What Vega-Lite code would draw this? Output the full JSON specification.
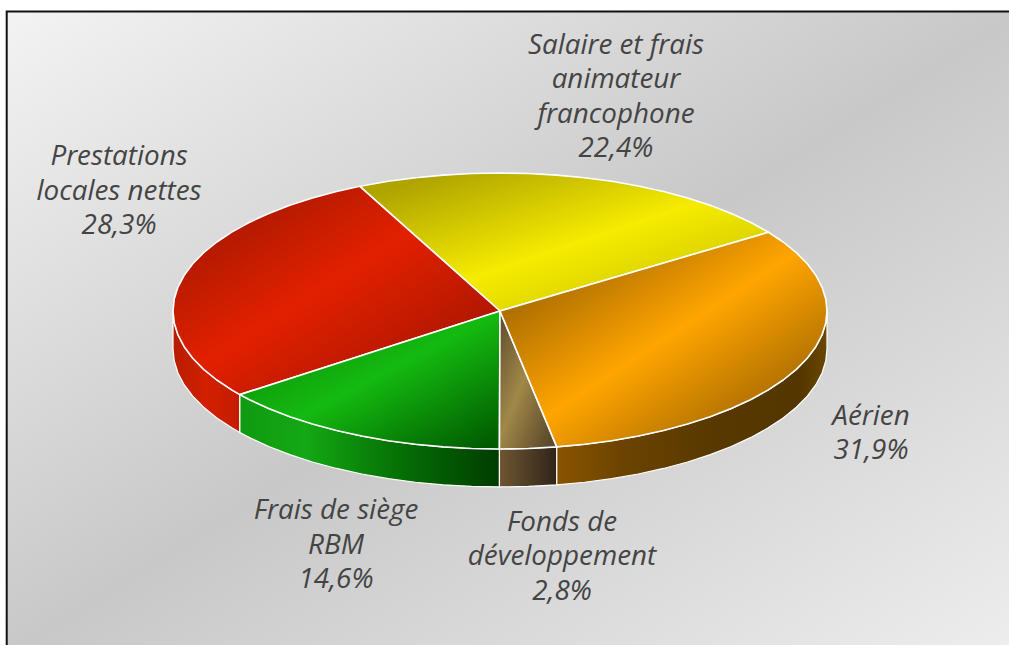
{"$schema":"https://vega.github.io/schema/vega-lite/v6.json","autosize":{"type":"fit","contains":"padding"},"width":1009,"height":645,"padding":0,"background":"white","config":{"view":{"stroke":null}},
"datasets":{
"panel":[{"x":-1.5086,"x2":1.6,"y":2.1703,"y2":-2.5}],
"walls":[
{"slice":"Prestations","x":-1,"top":0,"bottom":-0.275},{"slice":"Prestations","x":-0.9962,"top":-0.0872,"bottom":-0.3622},{"slice":"Prestations","x":-0.9848,"top":-0.1736,"bottom":-0.4486},{"slice":"Prestations","x":-0.9659,"top":-0.2588,"bottom":-0.5338},{"slice":"Prestations","x":-0.9397,"top":-0.342,"bottom":-0.617},{"slice":"Prestations","x":-0.9063,"top":-0.4226,"bottom":-0.6976},{"slice":"Prestations","x":-0.866,"top":-0.5,"bottom":-0.775},{"slice":"Prestations","x":-0.8192,"top":-0.5736,"bottom":-0.8486},{"slice":"Prestations","x":-0.7955,"top":-0.606,"bottom":-0.881},
{"slice":"Siege","x":-0.7955,"top":-0.606,"bottom":-0.881},{"slice":"Siege","x":-0.766,"top":-0.6428,"bottom":-0.9178},{"slice":"Siege","x":-0.7071,"top":-0.7071,"bottom":-0.9821},{"slice":"Siege","x":-0.6428,"top":-0.766,"bottom":-1.041},{"slice":"Siege","x":-0.5736,"top":-0.8192,"bottom":-1.0942},{"slice":"Siege","x":-0.5,"top":-0.866,"bottom":-1.141},{"slice":"Siege","x":-0.4226,"top":-0.9063,"bottom":-1.1813},{"slice":"Siege","x":-0.342,"top":-0.9397,"bottom":-1.2147},{"slice":"Siege","x":-0.2588,"top":-0.9659,"bottom":-1.2409},{"slice":"Siege","x":-0.1736,"top":-0.9848,"bottom":-1.2598},{"slice":"Siege","x":-0.0872,"top":-0.9962,"bottom":-1.2712},{"slice":"Siege","x":-0.0017,"top":-1,"bottom":-1.275},
{"slice":"Fonds","x":-0.0017,"top":-1,"bottom":-1.275},{"slice":"Fonds","x":0.0872,"top":-0.9962,"bottom":-1.2712},{"slice":"Fonds","x":0.1736,"top":-0.9848,"bottom":-1.2598},
{"slice":"Aerien","x":0.1736,"top":-0.9848,"bottom":-1.2598},{"slice":"Aerien","x":0.2588,"top":-0.9659,"bottom":-1.2409},{"slice":"Aerien","x":0.342,"top":-0.9397,"bottom":-1.2147},{"slice":"Aerien","x":0.4226,"top":-0.9063,"bottom":-1.1813},{"slice":"Aerien","x":0.5,"top":-0.866,"bottom":-1.141},{"slice":"Aerien","x":0.5736,"top":-0.8192,"bottom":-1.0942},{"slice":"Aerien","x":0.6428,"top":-0.766,"bottom":-1.041},{"slice":"Aerien","x":0.7071,"top":-0.7071,"bottom":-0.9821},{"slice":"Aerien","x":0.766,"top":-0.6428,"bottom":-0.9178},{"slice":"Aerien","x":0.8192,"top":-0.5736,"bottom":-0.8486},{"slice":"Aerien","x":0.866,"top":-0.5,"bottom":-0.775},{"slice":"Aerien","x":0.9063,"top":-0.4226,"bottom":-0.6976},{"slice":"Aerien","x":0.9397,"top":-0.342,"bottom":-0.617},{"slice":"Aerien","x":0.9659,"top":-0.2588,"bottom":-0.5338},{"slice":"Aerien","x":0.9848,"top":-0.1736,"bottom":-0.4486},{"slice":"Aerien","x":0.9962,"top":-0.0872,"bottom":-0.3622},{"slice":"Aerien","x":1,"top":0,"bottom":-0.275}
],
"tops":[
{"slice":"Salaire","i":0,"x":0,"y":0},{"slice":"Salaire","i":1,"x":0.8211,"y":0.5707},{"slice":"Salaire","i":2,"x":0.766,"y":0.6428},{"slice":"Salaire","i":3,"x":0.7071,"y":0.7071},{"slice":"Salaire","i":4,"x":0.6428,"y":0.766},{"slice":"Salaire","i":5,"x":0.5736,"y":0.8192},{"slice":"Salaire","i":6,"x":0.5,"y":0.866},{"slice":"Salaire","i":7,"x":0.4226,"y":0.9063},{"slice":"Salaire","i":8,"x":0.342,"y":0.9397},{"slice":"Salaire","i":9,"x":0.2588,"y":0.9659},{"slice":"Salaire","i":10,"x":0.1736,"y":0.9848},{"slice":"Salaire","i":11,"x":0.0872,"y":0.9962},{"slice":"Salaire","i":12,"x":0,"y":1},{"slice":"Salaire","i":13,"x":-0.0872,"y":0.9962},{"slice":"Salaire","i":14,"x":-0.1736,"y":0.9848},{"slice":"Salaire","i":15,"x":-0.2588,"y":0.9659},{"slice":"Salaire","i":16,"x":-0.342,"y":0.9397},{"slice":"Salaire","i":17,"x":-0.4226,"y":0.9063},{"slice":"Salaire","i":18,"x":-0.4289,"y":0.9033},{"slice":"Salaire","i":19,"x":0,"y":0},
{"slice":"Prestations","i":0,"x":0,"y":0},{"slice":"Prestations","i":1,"x":-0.4289,"y":0.9033},{"slice":"Prestations","i":2,"x":-0.5,"y":0.866},{"slice":"Prestations","i":3,"x":-0.5736,"y":0.8192},{"slice":"Prestations","i":4,"x":-0.6428,"y":0.766},{"slice":"Prestations","i":5,"x":-0.7071,"y":0.7071},{"slice":"Prestations","i":6,"x":-0.766,"y":0.6428},{"slice":"Prestations","i":7,"x":-0.8192,"y":0.5736},{"slice":"Prestations","i":8,"x":-0.866,"y":0.5},{"slice":"Prestations","i":9,"x":-0.9063,"y":0.4226},{"slice":"Prestations","i":10,"x":-0.9397,"y":0.342},{"slice":"Prestations","i":11,"x":-0.9659,"y":0.2588},{"slice":"Prestations","i":12,"x":-0.9848,"y":0.1736},{"slice":"Prestations","i":13,"x":-0.9962,"y":0.0872},{"slice":"Prestations","i":14,"x":-1,"y":0},{"slice":"Prestations","i":15,"x":-0.9962,"y":-0.0872},{"slice":"Prestations","i":16,"x":-0.9848,"y":-0.1736},{"slice":"Prestations","i":17,"x":-0.9659,"y":-0.2588},{"slice":"Prestations","i":18,"x":-0.9397,"y":-0.342},{"slice":"Prestations","i":19,"x":-0.9063,"y":-0.4226},{"slice":"Prestations","i":20,"x":-0.866,"y":-0.5},{"slice":"Prestations","i":21,"x":-0.8192,"y":-0.5736},{"slice":"Prestations","i":22,"x":-0.7955,"y":-0.606},{"slice":"Prestations","i":23,"x":0,"y":0},
{"slice":"Siege","i":0,"x":0,"y":0},{"slice":"Siege","i":1,"x":-0.7955,"y":-0.606},{"slice":"Siege","i":2,"x":-0.766,"y":-0.6428},{"slice":"Siege","i":3,"x":-0.7071,"y":-0.7071},{"slice":"Siege","i":4,"x":-0.6428,"y":-0.766},{"slice":"Siege","i":5,"x":-0.5736,"y":-0.8192},{"slice":"Siege","i":6,"x":-0.5,"y":-0.866},{"slice":"Siege","i":7,"x":-0.4226,"y":-0.9063},{"slice":"Siege","i":8,"x":-0.342,"y":-0.9397},{"slice":"Siege","i":9,"x":-0.2588,"y":-0.9659},{"slice":"Siege","i":10,"x":-0.1736,"y":-0.9848},{"slice":"Siege","i":11,"x":-0.0872,"y":-0.9962},{"slice":"Siege","i":12,"x":-0.0017,"y":-1},{"slice":"Siege","i":13,"x":0,"y":0},
{"slice":"Fonds","i":0,"x":0,"y":0},{"slice":"Fonds","i":1,"x":-0.0017,"y":-1},{"slice":"Fonds","i":2,"x":0.0872,"y":-0.9962},{"slice":"Fonds","i":3,"x":0.1736,"y":-0.9848},{"slice":"Fonds","i":4,"x":0,"y":0},
{"slice":"Aerien","i":0,"x":0,"y":0},{"slice":"Aerien","i":1,"x":0.1736,"y":-0.9848},{"slice":"Aerien","i":2,"x":0.2588,"y":-0.9659},{"slice":"Aerien","i":3,"x":0.342,"y":-0.9397},{"slice":"Aerien","i":4,"x":0.4226,"y":-0.9063},{"slice":"Aerien","i":5,"x":0.5,"y":-0.866},{"slice":"Aerien","i":6,"x":0.5736,"y":-0.8192},{"slice":"Aerien","i":7,"x":0.6428,"y":-0.766},{"slice":"Aerien","i":8,"x":0.7071,"y":-0.7071},{"slice":"Aerien","i":9,"x":0.766,"y":-0.6428},{"slice":"Aerien","i":10,"x":0.8192,"y":-0.5736},{"slice":"Aerien","i":11,"x":0.866,"y":-0.5},{"slice":"Aerien","i":12,"x":0.9063,"y":-0.4226},{"slice":"Aerien","i":13,"x":0.9397,"y":-0.342},{"slice":"Aerien","i":14,"x":0.9659,"y":-0.2588},{"slice":"Aerien","i":15,"x":0.9848,"y":-0.1736},{"slice":"Aerien","i":16,"x":0.9962,"y":-0.0872},{"slice":"Aerien","i":17,"x":1,"y":0},{"slice":"Aerien","i":18,"x":0.9962,"y":0.0872},{"slice":"Aerien","i":19,"x":0.9848,"y":0.1736},{"slice":"Aerien","i":20,"x":0.9659,"y":0.2588},{"slice":"Aerien","i":21,"x":0.9397,"y":0.342},{"slice":"Aerien","i":22,"x":0.9063,"y":0.4226},{"slice":"Aerien","i":23,"x":0.866,"y":0.5},{"slice":"Aerien","i":24,"x":0.8211,"y":0.5707},{"slice":"Aerien","i":25,"x":0,"y":0}
],
"labels":[
{"slice":"Salaire","share":22.4,"label":["Salaire et frais","animateur","francophone","22,4%"],"x":0.3547,"y":1.9203},
{"slice":"Prestations","share":28.3,"label":["Prestations","locales nettes","28,3%"],"x":-1.1651,"y":1.1159},
{"slice":"Aerien","share":31.9,"label":["Aérien","31,9%"],"x":1.1346,"y":-0.7681},
{"slice":"Fonds","share":2.8,"label":["Fonds de","développement","2,8%"],"x":0.1896,"y":-1.5362},
{"slice":"Siege","share":14.6,"label":["Frais de siège","RBM","14,6%"],"x":-0.5015,"y":-1.4493}
]},
"encoding":{
"x":{"field":"x","type":"quantitative","axis":null,"scale":{"domain":[-1.5291,1.5566],"nice":false,"zero":false}},
"y":{"field":"y","type":"quantitative","axis":null,"scale":{"domain":[-2.4203,2.2536],"nice":false,"zero":false}}},
"layer":[
{"data":{"name":"panel"},"mark":{"type":"rect","clip":true,"stroke":"#111111","strokeWidth":2,"fill":{"x1":0,"y1":0,"x2":1,"y2":1,"gradient":"linear","stops":[{"offset":0,"color":"#f3f3f3"},{"offset":0.5,"color":"#c8c8c8"},{"offset":1,"color":"#eeeeee"}]}},"encoding":{"x2":{"field":"x2"},"y2":{"field":"y2"}}},
{"data":{"name":"walls"},"transform":[{"filter":"datum.slice==='Prestations'"}],"mark":{"type":"area","stroke":"white","strokeWidth":1.2,"fill":{"x1":0,"y1":0,"x2":1,"y2":0,"gradient":"linear","stops":[{"offset":0,"color":"#b81c00"},{"offset":0.5,"color":"#d22000"},{"offset":1,"color":"#c41c00"}]}},"encoding":{"y":{"field":"top","type":"quantitative"},"y2":{"field":"bottom"}}},
{"data":{"name":"walls"},"transform":[{"filter":"datum.slice==='Siege'"}],"mark":{"type":"area","stroke":"white","strokeWidth":1.2,"fill":{"x1":0,"y1":0,"x2":1,"y2":0,"gradient":"linear","stops":[{"offset":0,"color":"#0f9a10"},{"offset":0.25,"color":"#14a814"},{"offset":0.6,"color":"#067206"},{"offset":1,"color":"#003c00"}]}},"encoding":{"y":{"field":"top","type":"quantitative"},"y2":{"field":"bottom"}}},
{"data":{"name":"walls"},"transform":[{"filter":"datum.slice==='Fonds'"}],"mark":{"type":"area","stroke":"white","strokeWidth":1.2,"fill":{"x1":0,"y1":0,"x2":1,"y2":0,"gradient":"linear","stops":[{"offset":0,"color":"#6e5630"},{"offset":1,"color":"#30241a"}]}},"encoding":{"y":{"field":"top","type":"quantitative"},"y2":{"field":"bottom"}}},
{"data":{"name":"walls"},"transform":[{"filter":"datum.slice==='Aerien'"}],"mark":{"type":"area","stroke":"white","strokeWidth":1.2,"fill":{"x1":0,"y1":0,"x2":1,"y2":0,"gradient":"linear","stops":[{"offset":0,"color":"#8a5400"},{"offset":0.25,"color":"#6a4300"},{"offset":0.6,"color":"#573800"},{"offset":0.9,"color":"#543600"},{"offset":1,"color":"#6a4800"}]}},"encoding":{"y":{"field":"top","type":"quantitative"},"y2":{"field":"bottom"}}},
{"data":{"name":"tops"},"transform":[{"filter":"datum.slice==='Salaire'"}],"mark":{"type":"line","strokeJoin":"round","stroke":"white","strokeWidth":1.6,"fill":{"x1":0,"y1":0,"x2":1,"y2":1,"gradient":"linear","stops":[{"offset":0.1,"color":"#b0a400"},{"offset":0.52,"color":"#f5ec00"},{"offset":0.85,"color":"#cfc800"}]}},"encoding":{"order":{"field":"i","type":"quantitative"}}},
{"data":{"name":"tops"},"transform":[{"filter":"datum.slice==='Prestations'"}],"mark":{"type":"line","strokeJoin":"round","stroke":"white","strokeWidth":1.6,"fill":{"x1":0,"y1":0,"x2":1,"y2":1,"gradient":"linear","stops":[{"offset":0.2,"color":"#b41a00"},{"offset":0.47,"color":"#e22000"},{"offset":0.78,"color":"#b41800"}]}},"encoding":{"order":{"field":"i","type":"quantitative"}}},
{"data":{"name":"tops"},"transform":[{"filter":"datum.slice==='Siege'"}],"mark":{"type":"line","strokeJoin":"round","stroke":"white","strokeWidth":1.6,"fill":{"x1":0,"y1":0,"x2":1,"y2":1,"gradient":"linear","stops":[{"offset":0.1,"color":"#0a8a0a"},{"offset":0.5,"color":"#14ba10"},{"offset":0.97,"color":"#005a00"}]}},"encoding":{"order":{"field":"i","type":"quantitative"}}},
{"data":{"name":"tops"},"transform":[{"filter":"datum.slice==='Fonds'"}],"mark":{"type":"line","strokeJoin":"round","stroke":"white","strokeWidth":1.6,"fill":{"x1":0,"y1":0,"x2":1,"y2":1,"gradient":"linear","stops":[{"offset":0.05,"color":"#655030"},{"offset":0.46,"color":"#a08848"},{"offset":0.9,"color":"#5e4a2c"}]}},"encoding":{"order":{"field":"i","type":"quantitative"}}},
{"data":{"name":"tops"},"transform":[{"filter":"datum.slice==='Aerien'"}],"mark":{"type":"line","strokeJoin":"round","stroke":"white","strokeWidth":1.6,"fill":{"x1":0,"y1":0,"x2":1,"y2":1,"gradient":"linear","stops":[{"offset":0.2,"color":"#b07000"},{"offset":0.5,"color":"#ffa500"},{"offset":0.8,"color":"#b07000"}]}},"encoding":{"order":{"field":"i","type":"quantitative"}}},
{"data":{"name":"labels"},"mark":{"type":"text","font":"Open Sans","fontStyle":"italic","fontSize":27.8,"lineHeight":34.5,"color":"#444444","align":"center","baseline":"middle"},"encoding":{"text":{"field":"label"}}}
]}
